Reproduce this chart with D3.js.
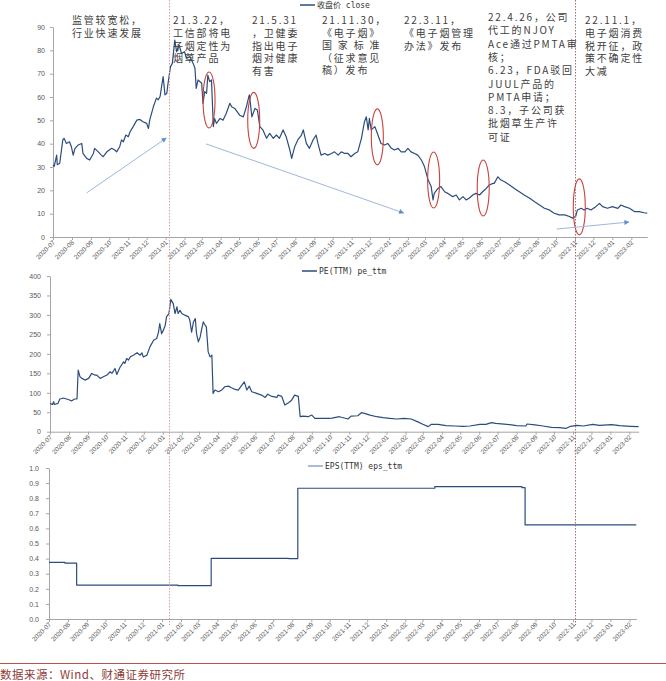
<!DOCTYPE html>
<html>
<head>
<meta charset="utf-8">
<script src="https://cdn.jsdelivr.net/npm/d3@7"></script>
<style>
  html, body { margin: 0; padding: 0; background: #fff; }
  svg { display: block; }
</style>
</head>
<body>
<svg id="chart" width="666" height="681"></svg>
<script>
// Share price, PE(TTM) and EPS(TTM), three stacked panels with policy notes.
'use strict';

var PRICE = [
  ['2020-07-01', 30.9], ['2020-07-03', 30.3], ['2020-07-07', 35.1], ['2020-07-08', 31], ['2020-07-12', 31.6],
  ['2020-07-17', 41.6], ['2020-07-19', 42.3], ['2020-07-23', 40.1], ['2020-07-28', 40.8], ['2020-07-31', 38.7],
  ['2020-08-03', 35.1], ['2020-08-06', 38], ['2020-08-11', 39.4], ['2020-08-17', 40.1], ['2020-08-19', 35.8],
  ['2020-08-25', 33.7], ['2020-08-30', 33], ['2020-09-05', 35.8], ['2020-09-07', 38], ['2020-09-13', 36.5],
  ['2020-09-18', 35.1], ['2020-09-21', 34.4], ['2020-09-27', 36.5], ['2020-10-05', 38], ['2020-10-10', 37.3],
  ['2020-10-13', 36.5], ['2020-10-18', 38.7], ['2020-10-21', 41.6], ['2020-10-24', 40.8], ['2020-10-28', 43.7],
  ['2020-11-01', 43], ['2020-11-04', 45.1], ['2020-11-09', 47.3], ['2020-11-15', 50.1], ['2020-11-20', 50.4],
  ['2020-11-25', 49.4], ['2020-12-01', 48.7], ['2020-12-04', 46.5], ['2020-12-06', 50.1], ['2020-12-12', 55.8],
  ['2020-12-17', 59.5], ['2020-12-20', 58.8], ['2020-12-23', 60.2], ['2020-12-25', 63.7], ['2020-12-28', 68.7],
  ['2020-12-31', 60.9], ['2021-01-03', 61.6], ['2021-01-05', 65.9], ['2021-01-09', 73], ['2021-01-12', 74.4],
  ['2021-01-16', 84.4], ['2021-01-19', 79.4], ['2021-01-23', 82.3], ['2021-01-27', 78.7], ['2021-02-01', 79.4],
  ['2021-02-04', 76.6], ['2021-02-10', 77.3], ['2021-02-15', 74.4], ['2021-02-18', 72.3], ['2021-02-20', 63.7],
  ['2021-02-23', 67.3], ['2021-03-01', 65.9], ['2021-03-03', 57.3], ['2021-03-06', 62.3], ['2021-03-09', 61.6],
  ['2021-03-11', 69.4], ['2021-03-14', 66.6], ['2021-03-17', 67.3], ['2021-03-20', 47.3], ['2021-03-22', 50.8],
  ['2021-03-25', 48.7], ['2021-03-31', 50.8], ['2021-04-05', 50.1], ['2021-04-10', 52.9], ['2021-04-16', 57.3],
  ['2021-04-19', 55.8], ['2021-04-24', 55.1], ['2021-05-02', 52.2], ['2021-05-08', 51.5], ['2021-05-13', 55.8],
  ['2021-05-17', 60.2], ['2021-05-18', 60.9], ['2021-05-22', 51.5], ['2021-05-27', 55.1], ['2021-05-31', 54.4],
  ['2021-06-04', 47.3], ['2021-06-09', 45.9], ['2021-06-15', 42.3], ['2021-06-20', 44.4], ['2021-06-26', 42.3],
  ['2021-07-01', 43.7], ['2021-07-06', 42.3], ['2021-07-12', 45.9], ['2021-07-17', 43], ['2021-07-23', 37.3],
  ['2021-07-26', 33.7], ['2021-07-31', 38.7], ['2021-08-05', 41.6], ['2021-08-11', 43.7], ['2021-08-14', 45.9],
  ['2021-08-19', 40.1], ['2021-08-24', 38], ['2021-08-30', 41.6], ['2021-09-04', 43.7], ['2021-09-07', 40.1],
  ['2021-09-12', 35.1], ['2021-09-18', 35.8], ['2021-09-23', 35.1], ['2021-09-29', 35.8], ['2021-10-04', 36.5],
  ['2021-10-10', 35.1], ['2021-10-15', 36.5], ['2021-10-21', 35.8], ['2021-10-26', 35.8], ['2021-10-31', 34.4],
  ['2021-11-06', 35.8], ['2021-11-11', 36.5], ['2021-11-17', 42.3], ['2021-11-22', 49.4], ['2021-11-25', 51.5],
  ['2021-11-28', 45.9], ['2021-11-30', 50.8], ['2021-12-03', 45.9], ['2021-12-09', 47.3], ['2021-12-14', 43.7],
  ['2021-12-19', 40.1], ['2021-12-25', 39.4], ['2021-12-30', 40.1], ['2022-01-05', 38], ['2022-01-10', 37.3],
  ['2022-01-16', 38], ['2022-01-21', 36.5], ['2022-01-27', 36.5], ['2022-02-01', 38], ['2022-02-06', 36.5],
  ['2022-02-12', 35.8], ['2022-02-17', 35.1], ['2022-02-23', 33], ['2022-02-28', 30.2], ['2022-03-06', 24.4],
  ['2022-03-11', 21.6], ['2022-03-14', 15.9], ['2022-03-16', 18.7], ['2022-03-22', 20.8], ['2022-03-27', 21.6],
  ['2022-04-02', 19.4], ['2022-04-07', 18.7], ['2022-04-15', 17.3], ['2022-04-21', 18], ['2022-04-26', 15.9],
  ['2022-05-02', 17.3], ['2022-05-07', 15.9], ['2022-05-12', 16.6], ['2022-05-18', 18], ['2022-05-23', 18.7],
  ['2022-05-29', 18], ['2022-06-03', 19.4], ['2022-06-09', 20.8], ['2022-06-14', 22.3], ['2022-06-20', 23],
  ['2022-06-22', 23], ['2022-06-28', 25.8], ['2022-07-03', 24.4], ['2022-07-09', 23.7], ['2022-07-17', 22.3],
  ['2022-07-25', 20.8], ['2022-08-02', 19.4], ['2022-08-10', 18], ['2022-08-19', 16.6], ['2022-08-27', 15.1],
  ['2022-09-04', 13.7], ['2022-09-12', 12.3], ['2022-09-20', 11.6], ['2022-09-28', 10.2], ['2022-10-06', 9.5],
  ['2022-10-15', 9.5], ['2022-10-23', 8.8], ['2022-10-28', 8.1], ['2022-11-02', 8.8], ['2022-11-05', 11.6],
  ['2022-11-11', 12.3], ['2022-11-16', 11.6], ['2022-11-21', 12.3], ['2022-11-27', 11.6], ['2022-12-05', 13],
  ['2022-12-11', 14.4], ['2022-12-16', 13], ['2022-12-24', 12.3], ['2023-01-01', 13], ['2023-01-10', 12.3],
  ['2023-01-15', 13.7], ['2023-01-21', 13], ['2023-01-29', 12.3], ['2023-02-06', 10.9], ['2023-02-14', 10.9],
  ['2023-02-22', 10.4], ['2023-02-27', 10.2]
];

var PE = [
  ['2020-07-01', 72.8], ['2020-07-05', 70], ['2020-07-07', 77], ['2020-07-08', 70], ['2020-07-14', 72.8],
  ['2020-07-17', 84], ['2020-07-23', 86.6], ['2020-07-28', 84], ['2020-08-02', 81.4], ['2020-08-05', 79],
  ['2020-08-10', 84], ['2020-08-14', 84], ['2020-08-16', 158], ['2020-08-19', 141], ['2020-08-22', 137],
  ['2020-08-27', 132.6], ['2020-09-02', 137], ['2020-09-07', 149.7], ['2020-09-12', 145.5], ['2020-09-15', 145.5],
  ['2020-09-21', 137], ['2020-09-26', 141], ['2020-10-02', 145.5], ['2020-10-07', 154], ['2020-10-10', 149.7],
  ['2020-10-15', 162.5], ['2020-10-18', 147], ['2020-10-23', 164.9], ['2020-10-29', 179.5], ['2020-10-31', 175.3],
  ['2020-11-03', 188], ['2020-11-06', 184], ['2020-11-09', 192.3], ['2020-11-14', 196.6], ['2020-11-20', 202.6],
  ['2020-11-25', 196.6], ['2020-11-28', 202.6], ['2020-11-30', 192.3], ['2020-12-06', 196.6], ['2020-12-11', 218],
  ['2020-12-17', 235], ['2020-12-22', 239.5], ['2020-12-25', 256], ['2020-12-27', 278], ['2020-12-30', 252],
  ['2021-01-02', 261], ['2021-01-05', 273.6], ['2021-01-07', 295], ['2021-01-11', 303.6], ['2021-01-14', 340],
  ['2021-01-18', 329], ['2021-01-21', 303.6], ['2021-01-24', 320.5], ['2021-01-26', 303.6], ['2021-01-29', 312],
  ['2021-02-01', 303.6], ['2021-02-06', 299.4], ['2021-02-12', 295], ['2021-02-14', 286.5], ['2021-02-17', 256],
  ['2021-02-20', 282], ['2021-02-23', 290.8], ['2021-02-25', 252], ['2021-02-28', 231], ['2021-03-03', 243.6],
  ['2021-03-05', 261], ['2021-03-08', 282], ['2021-03-11', 273.6], ['2021-03-13', 269.2], ['2021-03-16', 205],
  ['2021-03-19', 192.3], ['2021-03-22', 196.6], ['2021-03-24', 98.5], ['2021-03-27', 107], ['2021-04-02', 102.7],
  ['2021-04-07', 107], ['2021-04-12', 115.4], ['2021-04-18', 117], ['2021-04-23', 113], ['2021-04-29', 108.6],
  ['2021-05-04', 107], ['2021-05-10', 119.7], ['2021-05-14', 128], ['2021-05-18', 107], ['2021-05-22', 117],
  ['2021-05-26', 102.7], ['2021-06-03', 98.5], ['2021-06-11', 94], ['2021-06-17', 88], ['2021-06-21', 96.4],
  ['2021-06-28', 90.6], ['2021-07-06', 88], ['2021-07-08', 94], ['2021-07-14', 90.6], ['2021-07-19', 68.5],
  ['2021-07-25', 74.6], ['2021-07-30', 81], ['2021-08-04', 94], ['2021-08-10', 90.6], ['2021-08-13', 38.5],
  ['2021-08-18', 40], ['2021-08-26', 38.5], ['2021-09-01', 42.8], ['2021-09-06', 34.2], ['2021-09-17', 34.2],
  ['2021-09-28', 34.2], ['2021-10-04', 35], ['2021-10-16', 38.5], ['2021-10-30', 32.6], ['2021-11-04', 40],
  ['2021-11-15', 41], ['2021-11-21', 48.8], ['2021-11-26', 47], ['2021-12-05', 42.7], ['2021-12-16', 38.5],
  ['2021-12-26', 36], ['2022-01-06', 34.4], ['2022-01-17', 32.6], ['2022-01-30', 34.4], ['2022-02-10', 32.6],
  ['2022-02-20', 25.8], ['2022-03-01', 19], ['2022-03-10', 13], ['2022-03-15', 19], ['2022-03-26', 19],
  ['2022-04-08', 15.5], ['2022-04-22', 14.7], ['2022-05-06', 13.9], ['2022-05-17', 14.7], ['2022-06-02', 19],
  ['2022-06-12', 19], ['2022-06-21', 23.3], ['2022-06-28', 21.6], ['2022-07-16', 19], ['2022-08-01', 15.5],
  ['2022-08-16', 14.7], ['2022-08-18', 19.8], ['2022-08-31', 17.3], ['2022-09-13', 14.7], ['2022-09-27', 11.3],
  ['2022-10-10', 10.4], ['2022-10-21', 8.7], ['2022-10-28', 13.9], ['2022-11-07', 16.4], ['2022-11-18', 14.7],
  ['2022-12-03', 19], ['2022-12-14', 16.4], ['2023-01-03', 18], ['2023-01-16', 15.5], ['2023-02-02', 13.9],
  ['2023-02-16', 13]
];

var EPS = [
  ['2020-07-01', 0.375], ['2020-07-27', 0.37], ['2020-08-15', 0.225], ['2021-01-27', 0.221],
  ['2021-03-22', 0.402], ['2021-07-26', 0.40], ['2021-08-10', 0.866], ['2022-03-21', 0.876],
  ['2022-08-10', 0.87], ['2022-08-15', 0.623], ['2023-02-12', 0.623]
];

var PRICE_TICKS = [0, 10, 20, 30, 40, 50, 60, 70, 80, 90];
var PE_TICKS = [0, 50, 100, 150, 200, 250, 300, 350, 400];
var EPS_TICKS = [0, 0.1, 0.2, 0.3, 0.4, 0.5, 0.6, 0.7, 0.8, 0.9, 1.0];

var LEGENDS = ['收盘价 close', 'PE(TTM) pe_ttm', 'EPS(TTM) eps_ttm'];
var MARKER_DATES = ['2021-01-06', '2022-11-01'];

// Red rings on the price line: centre date and price.
var RINGS = [
  ['2021-03-13', 58.7], ['2021-05-25', 50], ['2021-12-13', 42.9],
  ['2022-03-15', 24.4], ['2022-06-04', 21], ['2022-11-08', 12.9]
];

// Trend arrows on the price panel: from date, from price, to date, to price.
var ARROWS = [
  ['2020-08-25', 18.9, '2021-01-02', 42.4],
  ['2021-03-08', 39.9, '2022-01-25', 10.3],
  ['2022-10-02', 3.4, '2023-01-28', 6.4]
];

var NOTES = [
  ['监管较宽松，', '行业快速发展'],
  ['21.3.22，', '工信部将电', '子烟定性为', '烟草产品'],
  ['21.5.31', '，卫健委', '指出电子', '烟对健康', '有害'],
  ['21.11.30，', '《电子烟》', '国 家 标 准', '（征求意见', '稿）发布'],
  ['22.3.11，', '《电子烟管理', '办法》发布'],
  ['22.4.26，公司', '代工的NJOY', 'Ace通过PMTA审', '核；', '6.23，FDA驳回', 'JUUL产品的', 'PMTA申请；', '8.3，子公司获', '批烟草生产许', '可证'],
  ['22.11.1，', '电子烟消费', '税开征，政', '策不确定性', '大减']
];

var SOURCE = '数据来源：Wind、财通证券研究所';

(function draw() {
  var svg = d3.select('#chart');
  var parse = d3.timeParse('%Y-%m-%d');
  var lineColor = '#2b4d7e';
  var axisColor = '#a6a6a6';
  var labelColor = '#595959';
  var cjk = '"Noto Sans CJK SC", "Noto Sans", sans-serif';
  var mono = '"DejaVu Sans Mono", "Noto Sans CJK SC", monospace';

  var panels = [
    { data: PRICE, ticks: PRICE_TICKS, max: 90, fmt: d3.format('d'), x0: 53, xNov: 575, top: 27, bottom: 237, pad: 5, legend: LEGENDS[0], lx: 300, ly: 8, legendColor: lineColor },
    { data: PE, ticks: PE_TICKS, max: 400, fmt: d3.format('d'), x0: 50, xNov: 573, top: 276, bottom: 431.7, pad: 6, legend: LEGENDS[1], lx: 302, ly: 274, legendColor: lineColor },
    { data: EPS, ticks: EPS_TICKS, max: 1, fmt: d3.format('.1f'), x0: 49, xNov: 573, top: 468, bottom: 619, pad: 7, legend: LEGENDS[2], lx: 308, ly: 469, legendColor: '#8ea8c3', step: true }
  ];

  var start = parse('2020-07-01');
  var nov = parse('2022-11-01');

  panels.forEach(function drawPanel(p) {
    var end = parse(p.data[p.data.length - 1][0]);
    var x = d3.scaleTime().domain([start, nov]).range([p.x0, p.xNov]);
    var xEnd = x(end);
    x.domain([start, end]).range([p.x0, xEnd]);
    var y = d3.scaleLinear().domain([0, p.max]).range([p.bottom, p.top]);
    p.x = x;
    p.y = y;

    var yAxis = svg.append('g')
      .attr('transform', 'translate(' + p.x0 + ',0)')
      .call(d3.axisLeft(y).tickValues(p.ticks).tickFormat(p.fmt).tickSize(3).tickSizeOuter(0).tickPadding(p.pad));
    styleAxis(yAxis);
    yAxis.selectAll('text').style('font-size', '7px');

    var xAxis = svg.append('g')
      .attr('transform', 'translate(0,' + p.bottom + ')')
      .call(d3.axisBottom(x).tickValues(d3.timeMonth.range(start, end)).tickFormat(d3.timeFormat('%Y-%m')).tickSize(3).tickSizeOuter(0));
    styleAxis(xAxis);
    xAxis.selectAll('text')
      .attr('x', 0).attr('y', 0).attr('dy', 0)
      .attr('transform', 'translate(2,6) rotate(-45)')
      .style('text-anchor', 'end')
      .style('font-size', '6.5px');

    var line = d3.line()
      .x(function (d) { return x(parse(d[0])); })
      .y(function (d) { return y(d[1]); });
    if (p.step) line.curve(d3.curveStepAfter);

    svg.append('path')
      .datum(p.data)
      .attr('d', line)
      .style('fill', 'none')
      .style('stroke', lineColor)
      .style('stroke-width', 1.2)
      .style('stroke-linejoin', 'round');

    svg.append('line')
      .attr('x1', p.lx).attr('x2', p.lx + 15)
      .attr('y1', p.ly - 3).attr('y2', p.ly - 3)
      .style('stroke', p.legendColor)
      .style('stroke-width', 1.5);
    svg.append('text')
      .attr('x', p.lx + 17)
      .attr('y', p.ly)
      .style('font-family', mono)
      .style('font-size', '8px')
      .style('fill', '#333')
      .text(p.legend);
  });

  function styleAxis(g) {
    g.select('.domain').style('stroke', axisColor);
    g.selectAll('.tick line').style('stroke', axisColor);
    g.selectAll('text')
      .style('fill', labelColor)
      .style('font-family', '"Liberation Sans", Arial, sans-serif');
  }

  var px = panels[0].x;
  var py = panels[0].y;

  // Dotted markers run through all three panels.
  MARKER_DATES.forEach(function drawMarker(date, i) {
    var mx = Math.round(px(parse(date))) + 0.5;
    svg.append('line')
      .attr('x1', mx).attr('x2', mx)
      .attr('y1', 0).attr('y2', 625)
      .style('stroke', i === 0 ? '#e09a9a' : '#a0716c')
      .style('stroke-width', 1)
      .style('stroke-dasharray', '1.5,1.5');
  });

  RINGS.forEach(function drawRing(r) {
    svg.append('ellipse')
      .attr('cx', px(parse(r[0])))
      .attr('cy', py(r[1]))
      .attr('rx', 6)
      .attr('ry', 28)
      .style('fill', 'none')
      .style('stroke', '#c8423c')
      .style('stroke-width', 1.1);
  });

  var defs = svg.append('defs');
  defs.append('marker')
    .attr('id', 'head')
    .attr('viewBox', '0 0 10 10')
    .attr('refX', 9).attr('refY', 5)
    .attr('markerWidth', 6).attr('markerHeight', 5)
    .attr('orient', 'auto')
    .append('path')
    .attr('d', 'M0,0 L10,5 L0,10 Z')
    .style('fill', '#5f8fd0');

  ARROWS.forEach(function drawArrow(a) {
    svg.append('line')
      .attr('x1', px(parse(a[0]))).attr('y1', py(a[1]))
      .attr('x2', px(parse(a[2]))).attr('y2', py(a[3]))
      .style('stroke', '#9db8dc')
      .style('stroke-width', 1)
      .attr('marker-end', 'url(#head)');
  });

  var notePos = [[72, 24, 13], [173, 24, 12.8], [252, 24, 12.8], [322, 24, 12.6], [404, 24, 13], [488, 21, 13.3], [585, 24, 12.8]];
  NOTES.forEach(function drawNote(lines, i) {
    var pos = notePos[i];
    var t = svg.append('text')
      .style('font-family', cjk)
      .style('font-size', '10px')
      .style('letter-spacing', '1.8px')
      .style('fill', '#404040');
    lines.forEach(function (s, j) {
      t.append('tspan').attr('x', pos[0]).attr('y', pos[1] + j * pos[2]).text(s);
    });
  });

  svg.append('line')
    .attr('x1', 0).attr('x2', 666)
    .attr('y1', 663.5).attr('y2', 663.5)
    .style('stroke', '#b5524a')
    .style('stroke-width', 1.2);
  svg.append('text')
    .attr('x', 0)
    .attr('y', 679)
    .style('font-family', cjk)
    .style('font-size', '11.5px')
    .style('letter-spacing', '0.5px')
    .style('fill', '#8e3b36')
    .text(SOURCE);
}());
</script>
</body>
</html>
